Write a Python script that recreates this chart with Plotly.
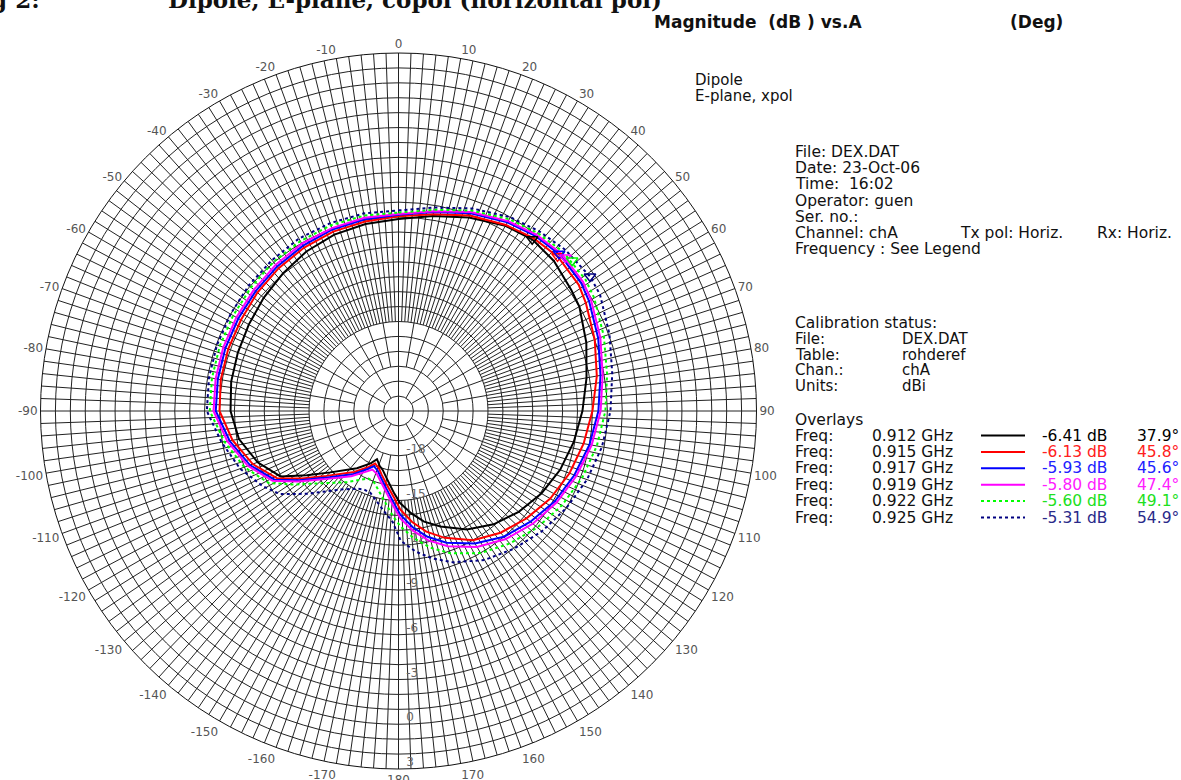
import plotly.graph_objects as go

W, H = 1181, 780

# ---------------- data ----------------
angles = [0, 10, 20, 30, 38, 46, 55, 60, 70, 80,
          90, 100, 110, 120, 130, 140, 150, 160, 167, 173,
          179, 183, 189, 195, 199, 204, 208, 216, 228, 235,
          241, 250, 260, 270, 280, 290, 300, 310, 320, 330,
          340, 350, 360]

mag_0912 = [-8.13, -7.73, -7.19, -6.66, -6.41, -6.52, -6.86, -7.00, -7.60, -8.20,
            -8.67, -9.07, -9.47, -9.94, -10.48, -11.08, -11.82, -12.76, -13.39, -14.10,
            -14.83, -15.47, -16.31, -16.91, -17.11, -17.46, -17.02, -16.26, -14.85, -13.50,
            -11.95, -10.95, -10.14, -9.74, -9.61, -9.54, -9.41, -9.20, -8.95, -8.65,
            -8.42, -8.27, -8.13]
mag_0915 = [-7.95, -7.60, -7.05, -6.60, -6.30, -6.13, -6.25, -6.50, -7.00, -7.50,
            -8.00, -8.40, -8.80, -9.25, -9.80, -10.35, -11.00, -11.95, -12.70, -13.50,
            -14.40, -15.20, -16.00, -16.60, -16.95, -17.15, -16.75, -15.95, -14.50, -13.10,
            -11.70, -10.60, -9.70, -9.00, -8.90, -8.85, -8.80, -8.65, -8.50, -8.35,
            -8.20, -8.10, -7.95]
mag_0917 = [-7.85, -7.45, -6.90, -6.40, -6.10, -5.93, -6.05, -6.25, -6.75, -7.25,
            -7.60, -8.00, -8.45, -8.90, -9.45, -10.00, -10.75, -11.60, -12.35, -13.15,
            -14.05, -14.85, -15.75, -16.40, -16.75, -16.95, -16.60, -15.75, -14.30, -12.90,
            -11.50, -10.40, -9.50, -8.75, -8.70, -8.65, -8.60, -8.50, -8.35, -8.20,
            -8.05, -7.95, -7.85]
mag_0919 = [-7.80, -7.40, -6.80, -6.30, -6.00, -5.81, -5.90, -6.10, -6.60, -7.10,
            -7.45, -7.85, -8.30, -8.75, -9.25, -9.80, -10.48, -11.35, -12.10, -12.90,
            -13.80, -14.60, -15.55, -16.20, -16.55, -16.70, -16.40, -15.60, -14.15, -12.75,
            -11.35, -10.25, -9.35, -8.60, -8.55, -8.50, -8.45, -8.35, -8.20, -8.05,
            -7.95, -7.85, -7.80]
mag_0922 = [-7.70, -7.30, -6.70, -6.15, -5.85, -5.65, -5.68, -5.85, -6.35, -6.80,
            -7.13, -7.50, -7.90, -8.35, -8.85, -9.40, -10.00, -10.85, -11.60, -12.40,
            -13.25, -13.95, -14.90, -15.60, -15.95, -16.05, -15.80, -15.10, -13.75, -12.40,
            -11.05, -10.00, -9.15, -8.35, -8.30, -8.25, -8.20, -8.10, -7.95, -7.85,
            -7.75, -7.70, -7.70]
mag_0925 = [-7.55, -7.15, -6.55, -6.00, -5.70, -5.45, -5.31, -5.40, -5.95, -6.45,
            -6.79, -7.15, -7.55, -8.00, -8.45, -8.95, -9.47, -10.20, -10.85, -11.50,
            -12.30, -13.55, -14.30, -14.90, -15.20, -15.25, -15.10, -14.50, -12.70, -11.30,
            -10.60, -9.70, -8.95, -8.15, -8.10, -8.05, -8.00, -7.90, -7.80, -7.65,
            -7.60, -7.55, -7.55]

series = [mag_0912, mag_0915, mag_0917, mag_0919, mag_0922, mag_0925]
freq_labels = ["0.912 GHz", "0.915 GHz", "0.917 GHz", "0.919 GHz", "0.922 GHz", "0.925 GHz"]
peak_db = [-6.41, -6.13, -5.93, -5.80, -5.60, -5.31]
peak_deg = [37.9, 45.8, 45.6, 47.4, 49.1, 54.9]
line_colors = ["#000000", "#ff0000", "#0000ff", "#ff00ff", "#00ff00", "#000080"]
text_colors = ["#000000", "#ff2020", "#2020ff", "#ff20ff", "#20e020", "#2a2a8a"]
line_dash = ["solid", "solid", "solid", "solid", "dot", "dot"]

angle_tickvals = list(range(0, 360, 10))
angle_ticktext = [str(a) if a <= 180 else str(a - 360) for a in angle_tickvals]
radial_labels = [-18, -15, -12, -9, -6, -3, 0, 3]
r_min, r_max = -21, 3

# spoke bands of the polar grid: (inner dB, outer dB, spoke step deg)
spoke_bands = [(-21, -20, 90), (-20, -18, 30), (-18, -15, 10), (-15, 3, 2)]

FONT = "DejaVu Sans"
GRID = "#222222"


def px(x):
    return x / W


def py(y):
    return 1 - y / H


fig = go.Figure()

# grid spokes
rs, ts = [], []
for r0, r1, step in spoke_bands:
    for t in range(0, 360, step):
        rs += [r0, r1, None]
        ts += [t, t, None]
fig.add_trace(go.Scatterpolar(r=rs, theta=ts, mode="lines",
                              line=dict(color=GRID, width=1),
                              hoverinfo="skip", showlegend=False))

# radial labels
fig.add_trace(go.Scatterpolar(r=radial_labels, theta=[180] * len(radial_labels),
                              mode="text",
                              text=["\u00a0\u00a0" + str(v) for v in radial_labels],
                              textposition="top right",
                              textfont=dict(family=FONT, size=12, color="#666666"),
                              hoverinfo="skip", showlegend=False))

# pattern curves
for vals, col, dash, lab in zip(series, line_colors, line_dash, freq_labels):
    fig.add_trace(go.Scatterpolar(r=vals, theta=angles, mode="lines",
                                  line=dict(color=col, width=2, dash=dash),
                                  name=lab, showlegend=False))

# peak markers
for pdb, pdeg, col in zip(peak_db, peak_deg, line_colors):
    fig.add_trace(go.Scatterpolar(r=[pdb], theta=[pdeg], mode="markers",
                                  marker=dict(symbol="triangle-down-open", size=10,
                                              color=col, line=dict(width=1.5, color=col)),
                                  showlegend=False, hoverinfo="skip"))

fig.update_layout(
    width=W, height=H,
    margin=dict(l=0, r=0, t=0, b=0),
    paper_bgcolor="white",
    showlegend=False,
    polar=dict(
        domain=dict(x=[px(40), px(757)], y=[py(769), py(53)]),
        bgcolor="white",
        angularaxis=dict(rotation=90, direction="clockwise",
                         tickmode="array", tickvals=angle_tickvals, ticktext=angle_ticktext,
                         showgrid=False, showline=True, linecolor="#111111", linewidth=1,
                         ticks="", tickfont=dict(family=FONT, size=12, color="#555555")),
        radialaxis=dict(range=[r_min, r_max], dtick=1, tick0=0,
                        showgrid=True, gridcolor=GRID, gridwidth=1,
                        showline=False, showticklabels=False, ticks=""),
    ),
)

ann = []


def txt(x, y, s, size=15.5, color="#111111", bold=False, family=FONT, anchor="left"):
    if bold:
        s = "<b>" + s + "</b>"
    ann.append(dict(x=px(x), y=py(y), xref="paper", yref="paper", text=s,
                    showarrow=False, xanchor=anchor, yanchor="middle",
                    font=dict(family=family, size=size, color=color)))


# header (cut at top)
txt(42, -1, "Fig 2:", size=23, bold=True, family="DejaVu Serif", anchor="right")
txt(166, -1, "Dipole, E-plane, copol (horizontal pol)", size=23, bold=True, family="DejaVu Serif")

# title
txt(652, 22, "Magnitude\u00a0\u00a0(dB\u00a0)\u00a0vs.A", size=17, bold=True)
txt(1008, 22, "(Deg)", size=17, bold=True)

txt(693, 80, "Dipole", size=15)
txt(693, 96, "E-plane, xpol", size=15)

info_lines = ["File: DEX.DAT", "Date: 23-Oct-06", "Time:\u00a0\u00a016:02", "Operator: guen",
              "Ser. no.:", "Channel: chA", "Frequency : See Legend"]
for i, s in enumerate(info_lines):
    txt(793, 152 + 16.2 * i, s)
txt(958, 152 + 16.2 * 5, "Tx pol: Horiz.")
txt(1095, 152 + 16.2 * 5, "Rx: Horiz.")

txt(793, 323, "Calibration status:")
cal_keys = ["File:", "Table:", "Chan.:", "Units:"]
cal_vals = ["DEX.DAT", "rohderef", "chA", "dBi"]
for i, (k, v) in enumerate(zip(cal_keys, cal_vals)):
    txt(793, 339 + 15.7 * i, k, size=15)
    txt(900, 339 + 15.7 * i, v, size=15)

txt(793, 420, "Overlays")
shapes = []
for i in range(len(freq_labels)):
    y = 435.5 + 16.4 * i
    txt(793, y, "Freq:")
    txt(870, y, freq_labels[i])
    txt(1040, y, "%.2f dB" % peak_db[i], color=text_colors[i])
    txt(1135, y, "%.1f°" % peak_deg[i], color=text_colors[i])
    shapes.append(dict(type="line", xref="paper", yref="paper",
                       x0=px(981), x1=px(1025), y0=py(y), y1=py(y),
                       line=dict(color=line_colors[i], width=2, dash=line_dash[i])))

fig.update_layout(annotations=ann, shapes=shapes)

fig.write_html("out.html", config={"displayModeBar": False},
               post_script="document.body.style.margin='0';")
